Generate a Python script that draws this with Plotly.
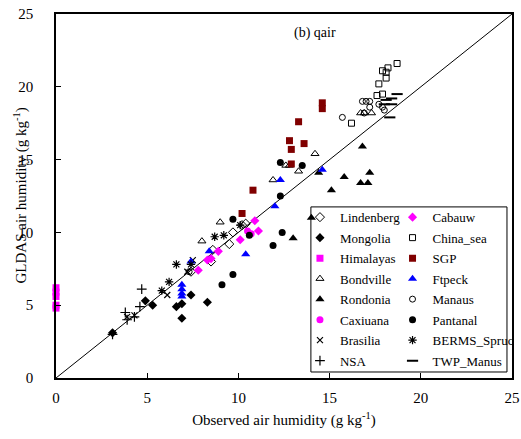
import plotly.graph_objects as go

# ---------------- data (observed x, GLDAS y) ----------------
lindenberg_x = [7.4, 8.5, 8.6, 9.5, 9.7, 10.2, 10.4]
lindenberg_y = [7.3, 8.0, 8.8, 9.2, 10.0, 10.5, 10.6]

cabauw_x = [7.8, 8.3, 8.5, 8.9, 10.1, 10.9, 11.1]
cabauw_y = [7.4, 8.1, 8.2, 8.7, 9.5, 10.8, 10.1]

mongolia_x = [3.1, 4.9, 5.3, 6.6, 6.9, 6.9, 7.4, 8.3]
mongolia_y = [3.1, 5.3, 5.0, 4.9, 5.1, 4.1, 5.7, 5.2]

chinasea_x = [16.2, 17.6, 17.9, 17.7, 18.1, 18.1, 18.2, 17.9, 18.7]
chinasea_y = [17.5, 19.4, 19.5, 20.2, 20.6, 21.0, 21.3, 21.1, 21.6]

himalayas_x = [0.0, 0.0, 0.0, 0.0, 0.0]
himalayas_y = [6.2, 5.9, 5.6, 5.0, 4.8]

sgp_x = [10.2, 10.8, 12.9, 12.9, 12.8, 13.6, 13.3, 14.6, 14.6]
sgp_y = [11.3, 12.9, 14.7, 15.7, 16.3, 16.1, 17.6, 18.9, 18.5]

bondville_x = [8.0, 9.0, 11.9, 12.6, 12.8, 13.3, 14.2, 16.7, 16.9, 17.3]
bondville_y = [9.4, 10.7, 13.6, 14.6, 14.6, 14.2, 15.4, 18.2, 18.2, 18.2]

ftpeck_x = [6.9, 6.9, 6.9, 6.9, 7.4, 8.4, 10.4, 12.0, 12.3, 14.6]
ftpeck_y = [6.4, 6.1, 5.8, 5.6, 8.0, 8.7, 8.5, 11.8, 13.6, 14.3]

rondonia_x = [13.0, 14.0, 14.4, 15.1, 15.8, 16.7, 17.1, 17.2, 16.8]
rondonia_y = [9.6, 11.0, 14.1, 12.9, 13.8, 13.4, 13.4, 14.1, 15.9]

manaus_x = [15.7, 16.8, 17.0, 17.2, 17.2, 16.9, 17.7, 17.9, 18.0, 7.3]
manaus_y = [17.9, 19.0, 19.0, 19.0, 18.6, 18.2, 18.8, 18.6, 18.4, 7.3]

caxiuana_x = [10.5, 10.7]
caxiuana_y = [10.1, 9.9]

pantanal_x = [9.1, 9.7, 9.7, 10.6, 11.9, 12.4, 12.3, 12.3, 13.5]
pantanal_y = [6.4, 7.1, 10.9, 9.8, 9.1, 10.0, 12.5, 14.8, 14.6]

brasilia_x = [3.9, 4.3, 6.1, 7.2, 7.5]
brasilia_y = [4.2, 4.3, 5.7, 7.3, 8.1]

berms_x = [5.8, 6.2, 6.6, 7.4, 8.7, 9.2, 10.1]
berms_y = [6.0, 6.6, 7.8, 7.8, 9.7, 9.8, 10.5]

nsa_x = [3.1, 3.8, 3.9, 4.3, 4.6, 4.7]
nsa_y = [3.0, 4.5, 4.0, 4.2, 4.9, 6.1]

twp_x = [18.7, 18.4, 18.1, 18.4, 18.0, 18.3]
twp_y = [19.5, 19.2, 19.1, 18.8, 18.8, 17.9]

one_to_one = [0, 25]

x_ticks = [0, 5, 10, 15, 20, 25]
y_ticks = [0, 5, 10, 15, 20, 25]

FONT = "Liberation Serif"
BLACK = "#000000"
MAGENTA = "#FF00FF"
DARKRED = "#800000"
BLUE = "#0000FF"

fig = go.Figure()

# 1:1 line
fig.add_trace(go.Scatter(x=one_to_one, y=one_to_one, mode="lines",
                         line=dict(color=BLACK, width=1), showlegend=False,
                         hoverinfo="skip"))

def add(name, xs, ys, symbol, color, legend, size=7, lw=1, clip=True):
    fig.add_trace(go.Scatter(
        x=xs, y=ys, mode="markers", name=name, legend=legend,
        legendgroup=name, cliponaxis=clip,
        marker=dict(symbol=symbol, color=color, size=size,
                    line=dict(color=color, width=lw))))

# left legend column
add("Lindenberg", lindenberg_x, lindenberg_y, "diamond-open", BLACK, "legend", 7)
add("Mongolia", mongolia_x, mongolia_y, "diamond", BLACK, "legend", 7, 0)
add("Himalayas", himalayas_x, himalayas_y, "square", MAGENTA, "legend", 7, 0, clip=False)
add("Bondville", bondville_x, bondville_y, "triangle-up-open", BLACK, "legend", 7)
add("Rondonia", rondonia_x, rondonia_y, "triangle-up", BLACK, "legend", 8, 0)
add("Caxiuana", caxiuana_x, caxiuana_y, "circle", MAGENTA, "legend", 7, 0)
add("Brasilia", brasilia_x, brasilia_y, "x-thin-open", BLACK, "legend", 6, 1.2)
add("NSA", nsa_x, nsa_y, "cross-thin-open", BLACK, "legend", 7, 1.2)
# right legend column
add("Cabauw", cabauw_x, cabauw_y, "diamond", MAGENTA, "legend2", 7, 0)
add("China_sea", chinasea_x, chinasea_y, "square-open", BLACK, "legend2", 6)
add("SGP", sgp_x, sgp_y, "square", DARKRED, "legend2", 7, 0)
add("Ftpeck", ftpeck_x, ftpeck_y, "triangle-up", BLUE, "legend2", 8, 0)
add("Manaus", manaus_x, manaus_y, "circle-open", BLACK, "legend2", 6)
add("Pantanal", pantanal_x, pantanal_y, "circle", BLACK, "legend2", 7, 0)
add("BERMS_Spruc", berms_x, berms_y, "asterisk-open", BLACK, "legend2", 7, 1.2)
add("TWP_Manus", twp_x, twp_y, "line-ew-open", BLACK, "legend2", 8, 2)

legend_common = dict(bgcolor="rgba(0,0,0,0)", borderwidth=0,
                     font=dict(family=FONT, size=13, color=BLACK),
                     xanchor="left", yanchor="top", tracegroupgap=0.6,
                     itemwidth=30)

fig.update_layout(
    width=521, height=439,
    margin=dict(l=56, r=9, t=14, b=61, autoexpand=False),
    paper_bgcolor="white", plot_bgcolor="white",
    font=dict(family=FONT, size=15, color=BLACK),
    showlegend=True,
    legend=dict(x=0.535, y=0.483, **legend_common),
    legend2=dict(x=0.738, y=0.483, **legend_common),
    xaxis=dict(range=[0, 25], tickvals=x_ticks, ticks="inside", ticklen=5,
               tickcolor=BLACK, showline=True, linecolor=BLACK, linewidth=1.5,
               mirror=True, showgrid=False, zeroline=False, automargin=False,
               ticklabelstandoff=5, ticklabeloverflow="allow",
               tickfont=dict(family=FONT, size=15),
               title=dict(text="Observed air humidity (g kg<sup>-1</sup>)",
                          font=dict(family=FONT, size=15), standoff=10)),
    yaxis=dict(range=[0, 25], tickvals=y_ticks, ticks="inside", ticklen=5,
               tickcolor=BLACK, showline=True, linecolor=BLACK, linewidth=1.5,
               mirror=True, showgrid=False, zeroline=False, automargin=False,
               ticklabelstandoff=18, ticklabeloverflow="allow",
               tickfont=dict(family=FONT, size=15)),
    shapes=[dict(type="rect", xref="paper", yref="paper",
                 x0=0.559, x1=0.989, y0=0.0165, y1=0.47,
                 line=dict(color=BLACK, width=1), fillcolor="rgba(0,0,0,0)",
                 layer="above")],
    annotations=[
        dict(text="(b) qair", x=14.2, y=23.7, xref="x", yref="y",
             showarrow=False, font=dict(family=FONT, size=14)),
        dict(text="GLDAS air humidity (g kg<sup>-1</sup>)", textangle=-90,
             x=-0.08, y=0.5, xref="paper", yref="paper", xanchor="center",
             yanchor="middle", showarrow=False,
             font=dict(family=FONT, size=15)),
    ],
)

# remove the page's default body margin so the figure fills the window exactly
fig.write_html("out.html",
               config={"displayModeBar": False},
               post_script="document.body.style.margin='0';"
                           "document.body.style.overflow='hidden';")
